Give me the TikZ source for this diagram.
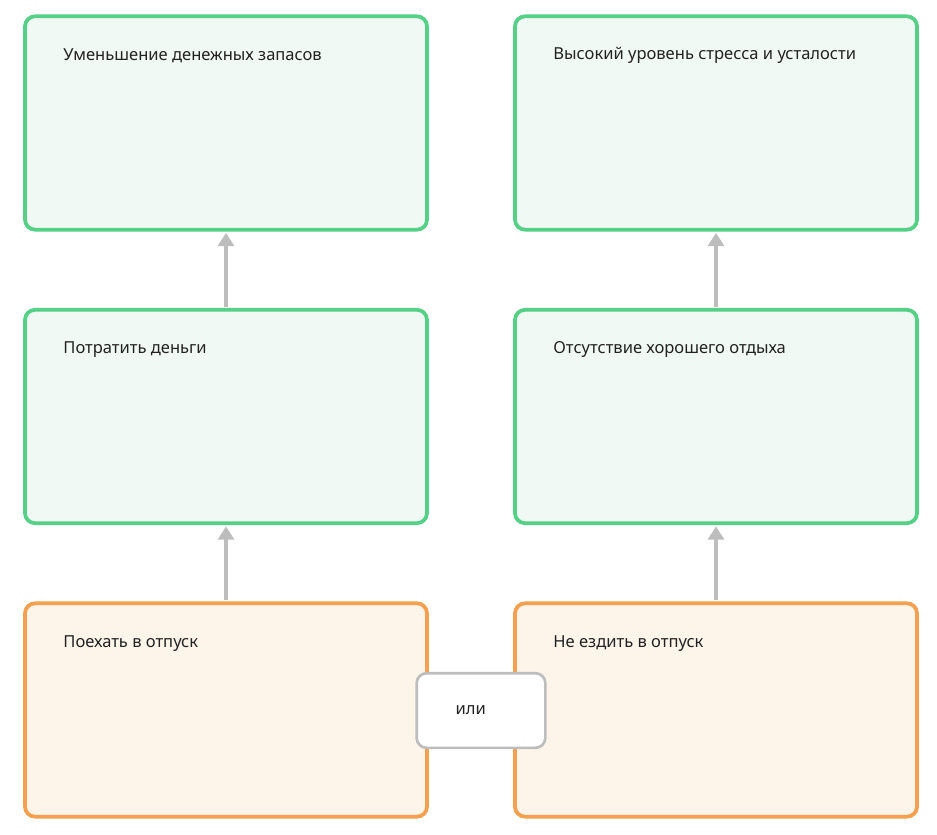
\documentclass[tikz,border=0pt]{standalone}
\usepackage{fontspec}
\setmainfont{Noto Sans}
\usepackage{tikz}
\usetikzlibrary{arrows.meta, positioning}

\definecolor{goalline}{HTML}{55D187}
\definecolor{goalfill}{HTML}{F0F9F3}
\definecolor{choiceline}{HTML}{F5A04F}
\definecolor{choicefill}{HTML}{FDF4EA}
\definecolor{linkgray}{HTML}{BDBDBD}
\definecolor{textdark}{HTML}{222222}

\begin{document}
\begin{tikzpicture}[x=0.75pt, y=-0.75pt,
    goal/.style={draw=goalline, fill=goalfill, line width=2.8pt, rounded corners=7.5pt,
        minimum width=301.5pt, minimum height=160pt, inner sep=0pt},
    choice/.style={goal, draw=choiceline, fill=choicefill},
    orbox/.style={draw=linkgray, fill=white, line width=2pt, rounded corners=7.5pt,
        minimum width=96.5pt, minimum height=56pt, inner sep=0pt},
    boxtext/.style={anchor=west, inner sep=0pt, text=textdark, font=\fontsize{12.4}{14}\selectfont},
    link/.style={draw=linkgray, line width=2.4pt, -{Triangle[width=12pt, length=10pt]},
        shorten <=1pt, shorten >=1pt}]
    \useasboundingbox (0, 0) rectangle (937, 834);

    % top row
    \node[goal] (money) at (226, 123) {};
    \node[goal] (stress) at (716, 123) {};
    \node[boxtext] at ([xshift=30pt, yshift=-31pt]money.north west) {Уменьшение денежных запасов};
    \node[boxtext] at ([xshift=30pt, yshift=-31pt]stress.north west) {Высокий уровень стресса и усталости};

    % middle row
    \node[goal] (spend) at (226, 416.5) {};
    \node[goal] (norest) at (716, 416.5) {};
    \node[boxtext] at ([xshift=30pt, yshift=-31pt]spend.north west) {Потратить деньги};
    \node[boxtext] at ([xshift=30pt, yshift=-31pt]norest.north west) {Отсутствие хорошего отдыха};

    % bottom row
    \node[choice] (go) at (226, 710) {};
    \node[choice] (stay) at (716, 710) {};
    \node[boxtext] at ([xshift=30pt, yshift=-31.5pt]go.north west) {Поехать в отпуск};
    \node[boxtext] at ([xshift=30pt, yshift=-31.5pt]stay.north west) {Не ездить в отпуск};

    \node[orbox] (or) at (481, 710.5) {};
    \node[boxtext] at ([xshift=30pt]or.west) {или};

    \draw[link] (go) -- (spend);
    \draw[link] (spend) -- (money);
    \draw[link] (stay) -- (norest);
    \draw[link] (norest) -- (stress);
\end{tikzpicture}
\end{document}
